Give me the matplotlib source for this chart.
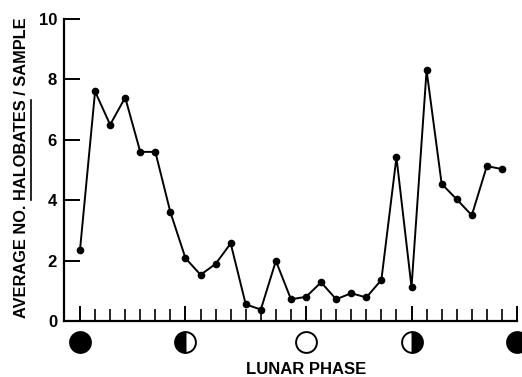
import numpy as np
import matplotlib
matplotlib.use("Agg")
import matplotlib.pyplot as plt
from matplotlib.transforms import blended_transform_factory
from matplotlib.lines import Line2D

plt.rcParams['font.family'] = ['Liberation Sans', 'DejaVu Sans']
plt.rcParams['font.weight'] = 'bold'

# sample index (one tick per sampling night) and mean counts
night = np.arange(29)
halobates = [2.35, 7.6, 6.5, 7.4, 5.6, 5.6, 3.6, 2.08, 1.53, 1.89,
             2.57, 0.55, 0.38, 1.99, 0.72, 0.8, 1.28, 0.72, 0.92, 0.78,
             1.36, 5.42, 1.12, 8.3, 4.54, 4.03, 3.5, 5.13, 5.03]

# lunar phases: position on the axis and style
phase_pos = [0, 7, 15, 22, 29]
phase_fill = ['full', 'left', 'none', 'right', 'full']
y_ticks = [0, 2, 4, 6, 8, 10]

W, H = 522, 377
fig = plt.figure(figsize=(W / 100, H / 100), dpi=100)
ax = fig.add_axes([64 / W, 1 - 321 / H, (517 - 64) / W, 302 / H])

ax.plot(night, halobates, color='black', lw=1.4, marker='o', ms=4.5,
        clip_on=False, zorder=3)

ax.set_xlim(-16 / 15.07, 29)
ax.set_ylim(0, 10)

ax.spines['top'].set_visible(False)
ax.spines['right'].set_visible(False)
ax.spines['left'].set_linewidth(1.6)
ax.spines['bottom'].set_linewidth(1.6)

ax.set_xticks(phase_pos)
ax.set_xticks(np.arange(30), minor=True)
ax.set_xticklabels([])
ax.tick_params(axis='x', which='major', direction='in', length=11, width=1.4)
ax.tick_params(axis='x', which='minor', direction='in', length=8.5, width=1.2)

ax.set_yticks(y_ticks)
ax.set_yticklabels([str(v) for v in y_ticks], fontsize=12)
ax.tick_params(axis='y', direction='in', length=11.5, width=1.4, pad=5)

# y label with underlined genus name
fs = 11.8
pre, genus, post = 'AVERAGE NO. ', 'HALOBATES', ' / SAMPLE'
lab_x, lab_y = 22 / W, 1 - 168 / H
lab = fig.text(lab_x, lab_y, pre + genus + post, rotation=90,
               ha='center', va='center', fontsize=fs)
r = fig.canvas.get_renderer()
def width(s):
    t = fig.text(0, 0, s, fontsize=fs)
    w = t.get_window_extent(r).width
    t.remove()
    return w
full_w = width(pre + genus + post)
w_a = width(pre + genus) - width(genus)
w_b = width(pre + genus)
bb = lab.get_window_extent(r)
y0 = bb.y0 + (bb.height - full_w) / 2
ux = 30.5
fig.add_artist(Line2D([ux / W, ux / W], [(y0 + w_a) / H, (y0 + w_b) / H],
                      color='black', lw=1.2))

# moon symbols below the axis
tr = blended_transform_factory(ax.transData, ax.transAxes)
for p, f in zip(phase_pos, phase_fill):
    if f == 'none':
        ax.plot(p, -0.0685, 'o', ms=15, mfc='white', mec='black', mew=1.4,
                transform=tr, clip_on=False)
    else:
        ax.plot(p, -0.0685, 'o', ms=15, mfc='black', mec='black', mew=1.4,
                fillstyle=f, markerfacecoloralt='white',
                transform=tr, clip_on=False)

ax.text(15, -0.162, 'LUNAR PHASE', transform=tr, ha='center', va='center',
        fontsize=12)

fig.savefig('out.png', dpi=100)
